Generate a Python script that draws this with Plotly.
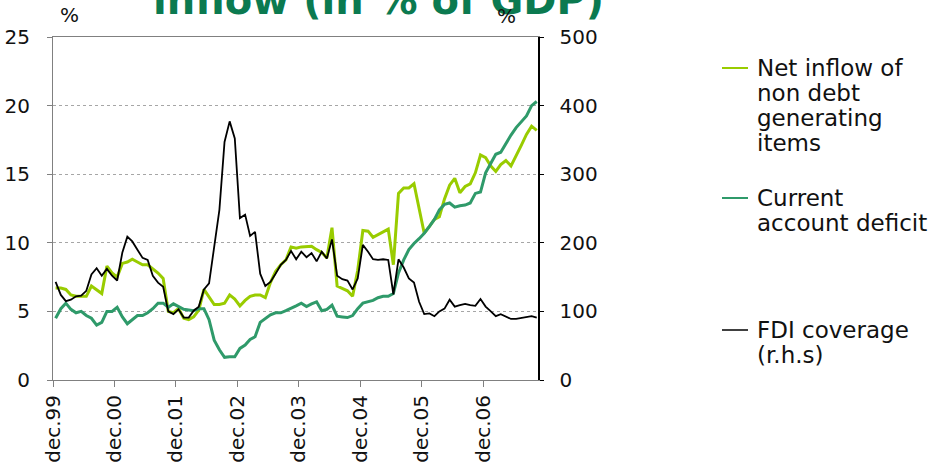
import plotly.graph_objects as go

# ---- data -------------------------------------------------------------
months = [f"{1999 + (11 + k) // 12}-{(11 + k) % 12 + 1:02d}" for k in range(95)]  # Dec-1999 .. Oct-2007

net_inflow = [6.7, 6.7, 6.6, 6.2, 6.1, 6.1, 6.1, 6.85, 6.55, 6.3,
              8.3, 7.8, 7.5, 8.5, 8.6, 8.8, 8.6, 8.4, 8.4, 8.1,
              7.8, 7.4, 5.0, 4.9, 5.2, 4.5, 4.4, 4.6, 5.1, 6.6,
              6.0, 5.5, 5.5, 5.6, 6.2, 5.9, 5.4, 5.8, 6.1, 6.2,
              6.2, 6.0, 7.1, 7.9, 8.4, 8.75, 9.7, 9.6, 9.7, 9.75,
              9.75, 9.5, 9.3, 8.9, 11.1, 6.85, 6.7, 6.5, 6.1, 8.0,
              10.9, 10.85, 10.4, 10.6, 10.85, 11.0, 8.4, 13.6, 14.0, 14.0,
              14.3, 12.4, 10.7, 11.2, 11.7, 11.9, 13.2, 14.2, 14.7, 13.65,
              14.1, 14.3, 15.1, 16.4, 16.2, 15.6, 15.2, 15.7, 16.0, 15.6,
              16.3, 17.1, 17.9, 18.5, 18.2]

current_account = [4.5, 5.2, 5.6, 5.15, 4.9, 5.0, 4.7, 4.5, 4.0, 4.2,
                   5.0, 5.0, 5.3, 4.6, 4.1, 4.4, 4.7, 4.7, 4.9, 5.2,
                   5.6, 5.6, 5.3, 5.55, 5.35, 5.15, 5.1, 5.05, 5.2, 5.2,
                   4.4, 2.9, 2.2, 1.65, 1.7, 1.7, 2.3, 2.55, 2.95, 3.15,
                   4.2, 4.5, 4.75, 4.9, 4.9, 5.05, 5.2, 5.4, 5.6, 5.35,
                   5.55, 5.7, 5.05, 5.15, 5.45, 4.65, 4.6, 4.55, 4.7, 5.2,
                   5.6, 5.7, 5.8, 6.0, 6.1, 6.1, 6.3, 7.8, 8.75, 9.5,
                   9.95, 10.3, 10.7, 11.2, 11.7, 12.4, 12.8, 12.9, 12.6, 12.7,
                   12.75, 12.9, 13.6, 13.7, 15.1, 15.8, 16.45, 16.6, 17.25, 17.85,
                   18.4, 18.8, 19.25, 20.0, 20.3]

fdi_coverage = [143, 124, 115, 117, 122, 123, 130, 154, 163, 152,
                162, 152, 145, 186, 209, 202, 190, 178, 175, 152,
                142, 136, 100, 96, 103, 91, 91, 101, 107, 132,
                141, 194, 248, 347, 377, 352, 236, 241, 210, 216,
                155, 137, 143, 155, 168, 175, 188, 176, 187, 179,
                185, 173, 187, 177, 205, 152, 147, 145, 132, 148,
                197, 187, 176, 175, 176, 175, 125, 176, 164, 148,
                142, 114, 96, 97, 93, 100, 104, 117, 107, 109,
                111, 109, 108, 118, 107, 100, 93, 96, 92, 89,
                89, 90, 92, 93, 91]

tick_dates = ["1999-12-01", "2000-12-01", "2001-12-01", "2002-12-01",
              "2003-12-01", "2004-12-01", "2005-12-01", "2006-12-01"]
tick_labels = ["dec.99", "dec.00", "dec.01", "dec.02", "dec.03", "dec.04", "dec.05", "dec.06"]

series_names = ["Net inflow of<br>non debt<br>generating<br>items",
                "Current<br>account deficit",
                "FDI coverage<br>(r.h.s)"]

LIME = "#99CC00"
TEAL = "#2F9A6A"
BLACK = "#000000"
GRID = "#A6A6A6"
FONT = "DejaVu Sans, Liberation Sans, Arial, sans-serif"
TXT = "#111111"

# ---- figure -----------------------------------------------------------
fig = go.Figure()
common = dict(x=months, xperiod="M1", xperiodalignment="middle", mode="lines", showlegend=False)
fig.add_trace(go.Scatter(y=net_inflow, line=dict(color=LIME, width=3), name="Net inflow", **common))
fig.add_trace(go.Scatter(y=current_account, line=dict(color=TEAL, width=3), name="Current account deficit", **common))
fig.add_trace(go.Scatter(y=fdi_coverage, line=dict(color=BLACK, width=1.8), name="FDI coverage", yaxis="y2", **common))

L, R, T, B = 53, 538, 37, 380
W, H = 930, 462
pw, ph = R - L, B - T


def px(x):
    return (x - L) / pw


def py(y):
    return (B - y) / ph


fig.update_layout(
    width=W, height=H,
    margin=dict(l=L, r=W - R, t=T, b=H - B, pad=0, autoexpand=False),
    paper_bgcolor="white", plot_bgcolor="white",
    font=dict(family=FONT, size=20, color=TXT),
    xaxis=dict(
        type="date", range=["1999-12-01", "2007-10-24"], automargin=False,
        tickmode="array", tickvals=tick_dates, ticktext=tick_labels,
        tickangle=-90, ticks="outside", ticklen=6, tickcolor="#808080",
        showline=True, linecolor="#808080", linewidth=1, mirror=True,
        showgrid=False, zeroline=False,
        tickfont=dict(size=20, family=FONT, color=TXT),
    ),
    yaxis=dict(
        range=[0, 25], tickmode="array", tickvals=[0, 5, 10, 15, 20, 25], automargin=False,
        ticks="outside", ticklen=5, tickcolor="#808080",
        showline=True, linecolor="#808080", linewidth=1,
        showgrid=True, gridcolor=GRID, griddash="3px,3px", gridwidth=1,
        zeroline=False, ticklabelstandoff=13,
        tickfont=dict(size=20, family=FONT, color=TXT),
    ),
    yaxis2=dict(
        range=[0, 500], tickmode="array", tickvals=[0, 100, 200, 300, 400, 500],
        overlaying="y", side="right", anchor="x", automargin=False,
        ticks="outside", ticklen=4, tickcolor="#000000",
        showline=True, linecolor="#000000", linewidth=1.5,
        showgrid=False, zeroline=False, ticklabelstandoff=12,
        tickfont=dict(size=20, family=FONT, color=TXT),
    ),
)

annotations = [
    dict(text="<b>inflow (in % of GDP)</b>", x=px(378), y=py(0), xref="paper", yref="paper",
         xanchor="center", yanchor="middle", showarrow=False,
         font=dict(size=40, color="#0B7A50", family=FONT)),
    dict(text="%", x=px(69), y=py(15), xref="paper", yref="paper",
         xanchor="center", yanchor="middle", showarrow=False, font=dict(size=20)),
    dict(text="%", x=px(506), y=py(16), xref="paper", yref="paper",
         xanchor="center", yanchor="middle", showarrow=False, font=dict(size=20)),
]

legend_rows = [(68, LIME, series_names[0]), (198, TEAL, series_names[1]), (330, BLACK, series_names[2])]
shapes = []
for y0, col, name in legend_rows:
    shapes.append(dict(type="line", xref="paper", yref="paper",
                       x0=px(722), x1=px(748), y0=py(y0), y1=py(y0),
                       line=dict(color=col, width=2 if col != BLACK else 1.5)))
    for k, line_text in enumerate(name.split("<br>")):
        annotations.append(dict(text=line_text, x=px(755), y=py(y0 + 25 * k),
                                xref="paper", yref="paper", xanchor="left", yanchor="middle",
                                showarrow=False, font=dict(size=23, color=TXT)))

fig.update_layout(annotations=annotations, shapes=shapes)

fig.write_html("out.html",
               config={"displayModeBar": False, "staticPlot": True},
               post_script="document.body.style.margin='0';document.body.style.overflow='hidden';")
